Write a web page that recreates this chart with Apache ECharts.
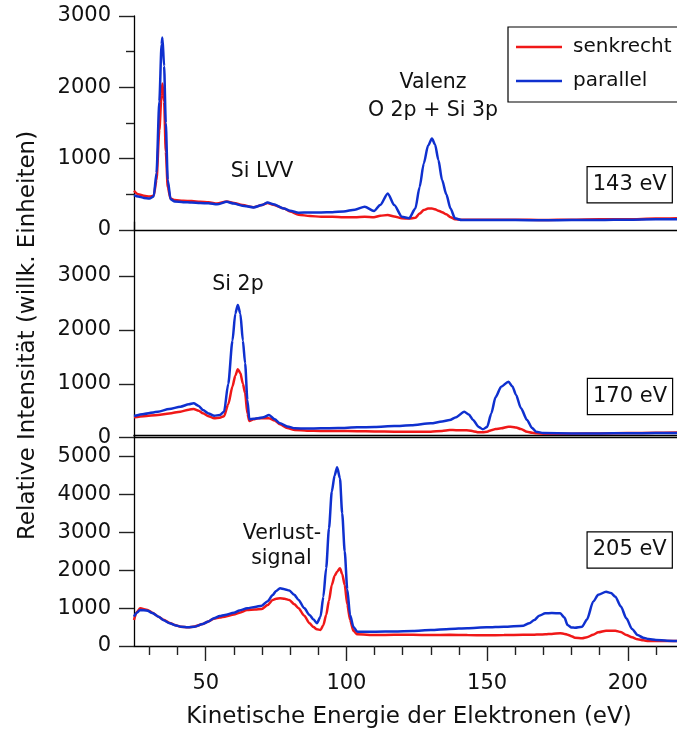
<!DOCTYPE html>
<html>
<head>
<meta charset="utf-8">
<script src="https://cdn.jsdelivr.net/npm/echarts@6/dist/echarts.min.js"></script>
<style>
html,body{margin:0;padding:0;background:#fff;}
#chart{width:677px;height:736px;}
</style>
</head>
<body>
<div id="chart"></div>
<script>
// ---------- data (kinetic energy in eV, intensity in arb. units) ----------
const energy143 = [24.5,26,28,30,31.5,32.5,33.5,34.3,34.6,35.2,35.8,36.5,37.5,39,42,45,48,51,54,57.5,60,63,67,70,72,74,77.8,80,83,87,91,95,99,103,106.5,109.8,112,114.7,117,119.7,122.3,124.5,126,127.5,129,130.4,131.5,132.7,134,135.5,137,138.6,141,150,160,170,180,190,200,210,217.5];
const senk143   = [550,500,480,470,480,700,1400,1900,2053,1800,1100,600,440,420,410,405,395,390,370,400,380,350,320,350,380,355,300,260,215,195,187,185,180,178,185,180,200,210,190,165,160,170,230,280,300,303,290,270,250,220,180,150,145,145,145,140,145,150,150,160,165];
const para143   = [490,470,450,440,470,800,1800,2600,2697,2300,1500,700,430,400,390,385,378,375,360,395,370,340,317,350,385,360,303,270,243,245,247,250,260,285,327,266,350,513,350,187,165,300,600,933,1180,1283,1200,980,700,500,300,163,140,140,140,135,140,140,145,150,150];

const energy170 = [24.5,28,33,37,41,44,45.7,47.5,49,51,53,55,56.5,58,59.5,60.5,61.4,62.3,63.2,64,64.8,65.5,67,68.6,70.5,72.5,74.5,76.4,79,81.7,86,90.8,97,103.9,110,117,123,130,134,136.7,139,141.9,143.5,145,147,148.5,150,151.5,153,155,157.6,159,160.3,162,164.2,166,167.4,170,180,190,200,210,217.5];
const senk170   = [377,400,421,450,483,520,532,500,452,400,359,370,400,620,950,1150,1268,1200,1000,823,450,310,340,359,360,359,320,250,180,142,130,124,125,120,115,112,110,110,125,142,140,140,135,120,100,99,110,140,160,173,204,200,190,160,110,90,81,75,75,80,85,90,95];
const para170   = [402,440,483,530,575,620,637,590,513,450,408,420,480,1000,1800,2300,2461,2300,1800,1378,700,340,350,360,380,421,340,266,210,173,170,173,180,192,200,216,230,266,300,328,380,483,430,330,200,155,200,450,750,946,1039,950,792,550,328,180,112,85,80,80,82,85,85];

const energy205 = [24.5,25.5,26.7,29.3,31,33.2,35,37.2,39,41.1,43.7,46,49,51,52.9,55,56.8,60,62,64.7,67.5,69.9,72,73.8,75,76.4,78,79.7,81.5,83,85,86.9,88.3,89.5,90.8,91.8,92.8,93.8,94.8,95.8,96.7,97.7,98.5,99.4,100.3,101.3,102.5,103.9,110.5,117,123.6,130,136.7,143,149.8,156,162.9,165,166.8,168.5,170.7,173,176,177.5,178.6,180,181.2,183.8,185.5,187.7,189.5,192.3,194,195.6,197.5,199.5,201.5,203.5,205.5,207.4,210,214,217.5];
const senk205   = [687,900,995,951,880,775,690,610,555,511,493,515,581,650,720,750,775,830,880,951,965,977,1080,1215,1250,1259,1250,1215,1100,995,800,599,500,440,423,550,819,1200,1611,1850,1963,2052,1900,1611,1100,687,400,308,291,295,295,290,295,290,282,290,295,300,300,305,308,320,335,320,300,260,220,203,230,300,360,405,405,400,370,291,230,176,150,132,130,130,132];
const para205   = [775,880,951,933,870,775,680,599,550,511,493,510,581,650,731,790,819,880,940,995,1030,1065,1180,1347,1450,1523,1500,1462,1350,1215,1000,819,700,599,775,1300,2052,3100,4077,4500,4719,4429,3500,2492,1500,819,500,379,379,385,396,420,449,470,493,510,537,600,687,800,863,870,863,750,555,490,484,511,700,1171,1350,1435,1400,1303,1050,731,450,291,220,185,160,140,132];

const seriesNames = ['senkrecht', 'parallel'];
const xMajorTicks = [50, 100, 150, 200];
const yTicksTop = [0, 1000, 2000, 3000];
const yTicksMid = [0, 1000, 2000, 3000];
const yTicksBottom = [0, 1000, 2000, 3000, 4000, 5000];
const panelLabels = ['143 eV', '170 eV', '205 eV'];
const xTitle = 'Kinetische Energie der Elektronen (eV)';
const yTitle = 'Relative Intensität (willk. Einheiten)';

// ---------- styling ----------
const FONT = 'DejaVu Sans';
const RED = '#f01818';
const BLUE = '#0f30cf';
const X_MIN = 24.5, X_MAX = 217.5;
const plain = v => String(v);

function pairs(xs, ys) { return xs.map((x, i) => [x, ys[i]]); }

const lineAxis = { show: true, lineStyle: { color: '#000', width: 1.3 } };

function lineOnlyX(gridIndex, position) {
  return {
    type: 'value', gridIndex, position, min: X_MIN, max: X_MAX,
    axisLine: lineAxis, axisTick: { show: false }, axisLabel: { show: false },
    splitLine: { show: false }
  };
}

function yAxisDef(gridIndex, max, ticks, extra) {
  return Object.assign({
    type: 'value', gridIndex, min: 0, max,
    axisLine: lineAxis,
    axisTick: { show: true, length: 15, customValues: ticks, lineStyle: { color: '#222', width: 1.4 } },
    axisLabel: { show: true, customValues: ticks, margin: 23, formatter: plain, fontFamily: FONT, fontSize: 21, color: '#111' },
    splitLine: { show: false }
  }, extra || {});
}

function mkSeries(name, color, xi, data) {
  return {
    name, type: 'line', xAxisIndex: xi, yAxisIndex: xi, data,
    symbol: 'none', smooth: 0.25, smoothMonotone: 'x',
    lineStyle: { color, width: 2.5 }, itemStyle: { color },
    emphasis: { disabled: true }, silent: true
  };
}

const option = {
  animation: false,
  backgroundColor: '#fff',
  grid: [
    { left: 134, right: 0, top: 16, height: 214, outerBoundsMode: 'none', containLabel: false },
    { left: 134, right: 0, top: 222, height: 215.7, outerBoundsMode: 'none', containLabel: false },
    { left: 134, right: 0, top: 435, height: 211, outerBoundsMode: 'none', containLabel: false }
  ],
  xAxis: [
    lineOnlyX(0, 'top'),
    lineOnlyX(1, 'top'),
    {
      type: 'value', gridIndex: 2, position: 'bottom', min: X_MIN, max: X_MAX,
      minInterval: 50, maxInterval: 50, splitNumber: 4,
      axisLine: lineAxis,
      axisTick: { show: true, length: 15, customValues: xMajorTicks, lineStyle: { color: '#222', width: 1.4 } },
      minorTick: { show: true, splitNumber: 5, length: 9, lineStyle: { color: '#222', width: 1.4 } },
      axisLabel: { show: true, customValues: xMajorTicks, margin: 27, formatter: plain, fontFamily: FONT, fontSize: 21, color: '#111' },
      splitLine: { show: false }
    },
    lineOnlyX(2, 'top')
  ],
  yAxis: [
    yAxisDef(0, 3000, yTicksTop, {
      interval: 1000,
      axisTick: { show: true, length: 15, lineStyle: { color: '#222', width: 1.4 } },
      axisLabel: { show: true, margin: 23, formatter: plain, fontFamily: FONT, fontSize: 21, color: '#111' },
      minorTick: { show: true, splitNumber: 2, length: 8, lineStyle: { color: '#222', width: 1.4 } }
    }),
    yAxisDef(1, 4000, yTicksMid),
    yAxisDef(2, 5570, yTicksBottom)
  ],
  legend: {
    data: seriesNames.map(n => ({ name: n, icon: 'rect' })),
    orient: 'vertical', left: 508, top: 27,
    padding: [10, 10, 11, 8], itemWidth: 46, itemHeight: 2.6, itemGap: 14,
    borderColor: '#000', borderWidth: 1.2, selectedMode: false,
    textStyle: { fontFamily: FONT, fontSize: 20, color: '#111', lineHeight: 14, padding: [0, 0, 0, 6] }
  },
  series: [
    mkSeries(seriesNames[0], RED, 0, pairs(energy143, senk143)),
    mkSeries(seriesNames[1], BLUE, 0, pairs(energy143, para143)),
    mkSeries(seriesNames[0], RED, 1, pairs(energy170, senk170)),
    mkSeries(seriesNames[1], BLUE, 1, pairs(energy170, para170)),
    mkSeries(seriesNames[0], RED, 2, pairs(energy205, senk205)),
    mkSeries(seriesNames[1], BLUE, 2, pairs(energy205, para205))
  ],
  graphic: []
};

function txt(text, x, y, size, extra) {
  return {
    type: 'text', x, y, silent: true, z: 100,
    style: Object.assign({ text, font: size + 'px "' + FONT + '"', fill: '#111', align: 'center', verticalAlign: 'middle' }, extra || {})
  };
}
function boxed(text, x, y) {
  return txt(text, x, y, 21, { backgroundColor: '#fff', borderColor: '#000', borderWidth: 1.2, padding: [7, 5, 7, 5] });
}

option.graphic = [
  txt('Si LVV', 262, 172, 20.5),
  txt('Valenz', 433, 83, 20.5),
  txt('O 2p + Si 3p', 433, 110.5, 20.5),
  txt('Si 2p', 238, 285, 20.5),
  txt('Verlust-', 282, 534, 20.5),
  txt('signal', 281.5, 559, 20.5),
  boxed(panelLabels[0], 629.7, 184.7),
  boxed(panelLabels[1], 630, 396.5),
  boxed(panelLabels[2], 629.7, 550),
  txt(xTitle, 409, 717, 23),
  Object.assign(txt(yTitle, 28.5, 335.5, 23), { rotation: Math.PI / 2 })
];

const chart = echarts.init(document.getElementById('chart'), null, { renderer: 'canvas' });
chart.setOption(option);
</script>
</body>
</html>
